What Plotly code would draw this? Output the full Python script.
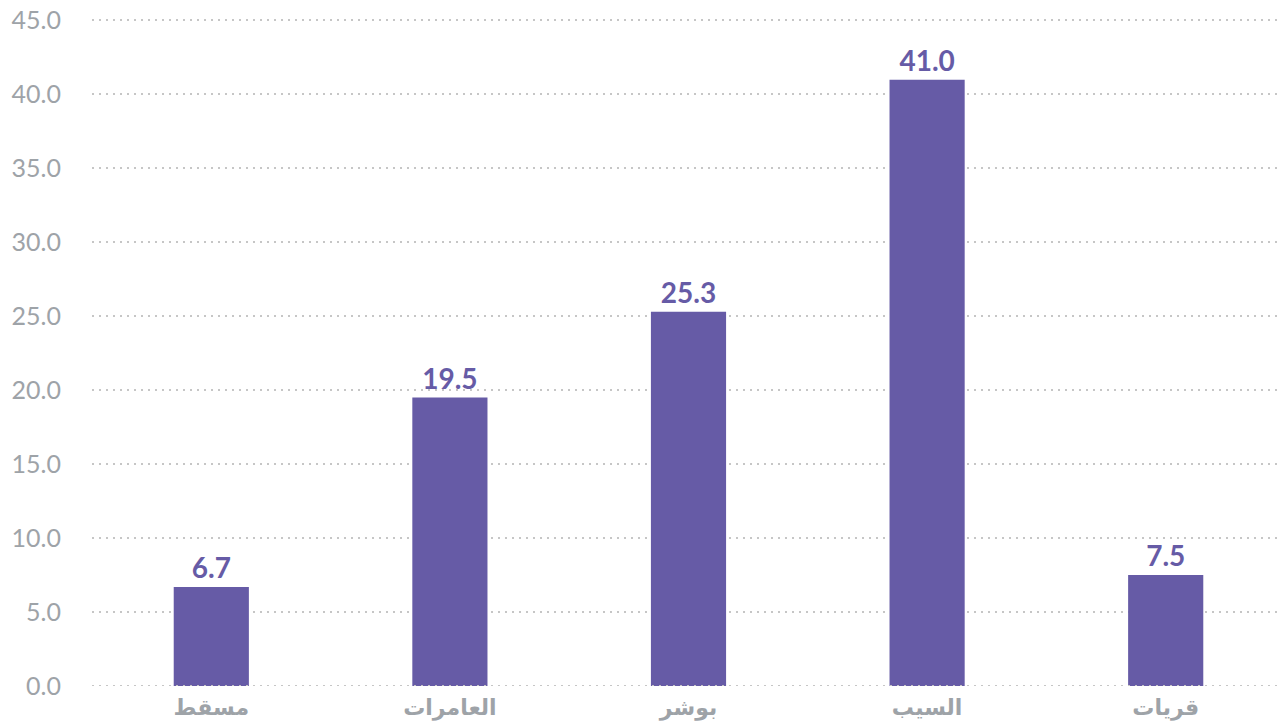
import plotly.graph_objects as go

categories = ["مسقط", "العامرات", "بوشر", "السيب", "قريات"]
values = [6.7, 19.5, 25.3, 41.0, 7.5]
tick_vals = [0, 5, 10, 15, 20, 25, 30, 35, 40, 45]
tick_text = [f"{v:.1f}" for v in tick_vals]

bar_color = "#665ba6"
grey = "#9ea3a8"
grid = "#c6c6c6"

fig = go.Figure(go.Bar(
    x=categories, y=values,
    marker=dict(color=bar_color, line=dict(width=0)),
    text=[f"{v:.1f}" for v in values],
    textposition="outside",
    textfont=dict(family="Lato, DejaVu Sans", size=28, color=bar_color, weight="bold"),
    cliponaxis=False,
    width=0.315,
))

fig.update_layout(
    width=1277, height=717,
    margin=dict(l=84, r=0, t=11, b=39),
    paper_bgcolor="white", plot_bgcolor="white",
    showlegend=False,
    font=dict(family="Lato, DejaVu Sans", color=grey),
    yaxis=dict(
        range=[0, 45.1], tickvals=tick_vals, ticktext=tick_text,
        showgrid=True, gridcolor=grid, griddash="2px,5px", gridwidth=2,
        zeroline=False, showline=False, ticks="",
        tickfont=dict(size=25, color=grey, family="Lato, DejaVu Sans"),
        ticklabelstandoff=30,
        ticklabeloverflow="allow",
        automargin=False,
    ),
    xaxis=dict(
        showgrid=False, showline=False, zeroline=False, ticks="",
        tickfont=dict(size=22, color=grey, family="DejaVu Sans, Lato", weight="bold"),
        ticklabelstandoff=6,
        automargin=False,
    ),
    shapes=[dict(type="line", xref="paper", yref="y", x0=0, x1=1, y0=0, y1=0,
                 line=dict(color=grid, width=2, dash="2px,5px"), layer="above")],
)

fig.write_html("out.html")
